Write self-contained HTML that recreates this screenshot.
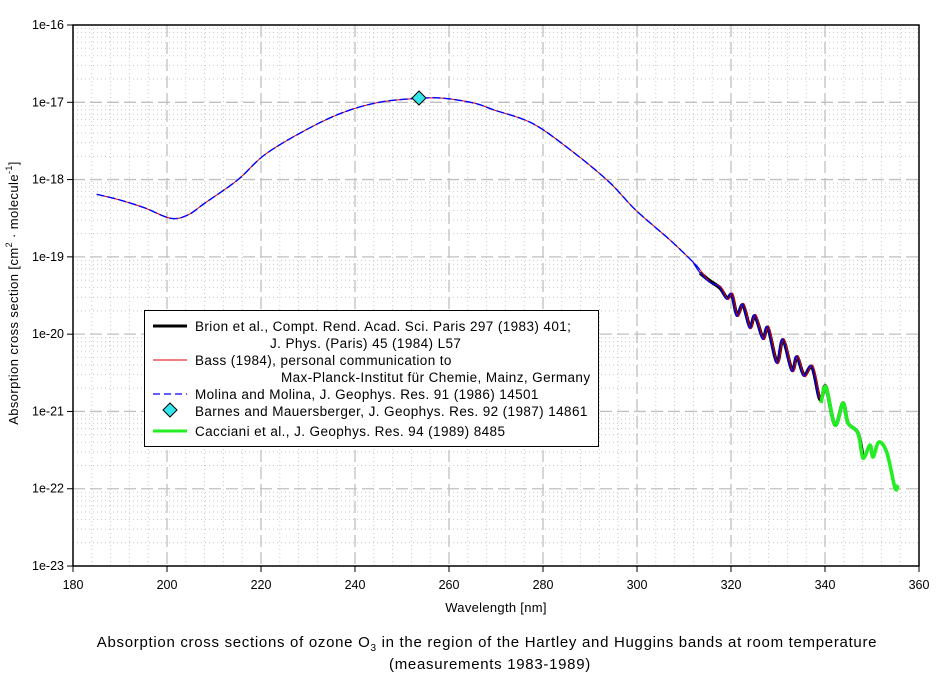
<!DOCTYPE html>
<html><head><meta charset="utf-8"><style>
body{margin:0;background:#fff}
svg{display:block;font-family:"Liberation Sans",Arial,sans-serif}
</style></head><body>
<svg id="s" width="944" height="678" viewBox="0 0 944 678" xmlns="http://www.w3.org/2000/svg">
<g id="grid"></g>
<g id="curves"></g>
<rect x="73" y="25" width="846" height="541" fill="none" stroke="#000" stroke-width="1.5"/>
<g id="ticks" font-size="12.5" fill="#000"></g>
<text x="496" y="612" font-size="13" letter-spacing="0.3" text-anchor="middle">Wavelength [nm]</text>
<text transform="translate(18,293) rotate(-90)" font-size="13" letter-spacing="0.4" text-anchor="middle">Absorption cross section [cm<tspan font-size="9" dy="-6">2</tspan><tspan dy="6"> · molecule</tspan><tspan font-size="9" dy="-6">-1</tspan><tspan dy="6">]</tspan></text>
<text x="487" y="647" font-size="15" letter-spacing="0.7" text-anchor="middle">Absorption cross sections of ozone O<tspan font-size="10" dy="4">3</tspan><tspan dy="-4"> in the region of the Hartley and Huggins bands at room temperature</tspan></text>
<text x="490" y="669" font-size="15" letter-spacing="0.7" text-anchor="middle">(measurements 1983-1989)</text>
<g id="legend">
<rect x="144.5" y="310.5" width="454" height="136" fill="#fff" stroke="#000"/>
<line x1="153" y1="326" x2="187" y2="326" stroke="#000" stroke-width="3"/>
<line x1="153" y1="360" x2="187" y2="360" stroke="#e00000" stroke-width="1"/>
<line x1="153" y1="394" x2="187" y2="394" stroke="#0000ff" stroke-width="1.3" stroke-dasharray="7,4"/>
<polygon points="170,403 177,410 170,417 163,410" fill="#33e6ee" stroke="#000"/>
<line x1="153" y1="431" x2="187" y2="431" stroke="#22ee22" stroke-width="3"/>
<g font-size="13.5" letter-spacing="0.4">
<text x="195" y="331">Brion et al., Compt. Rend. Acad. Sci. Paris 297 (1983) 401;</text>
<text x="270" y="348">J. Phys. (Paris) 45 (1984) L57</text>
<text x="195" y="365">Bass (1984), personal communication to</text>
<text x="281" y="382">Max-Planck-Institut für Chemie, Mainz, Germany</text>
<text x="195" y="399">Molina and Molina, J. Geophys. Res. 91 (1986) 14501</text>
<text x="195" y="416">Barnes and Mauersberger, J. Geophys. Res. 92 (1987) 14861</text>
<text x="195" y="436">Cacciani et al., J. Geophys. Res. 94 (1989) 8485</text>
</g>
</g>
</svg>
<script>
var NS="http://www.w3.org/2000/svg";
function el(p,n,a){var e=document.createElementNS(NS,n);for(var k in a)e.setAttribute(k,a[k]);p.appendChild(e);return e;}
var g=document.getElementById('grid'),t=document.getElementById('ticks'),c=document.getElementById('curves');
var X0=73,X1=919,Y0=25,D=77.29;
for(var w=184;w<360;w+=4){var x=X0+(w-180)*4.7;if(w%20==0)continue;el(g,'line',{x1:x,y1:Y0,x2:x,y2:566,stroke:'#c8c8c8','stroke-dasharray':'1,3'});}
for(var d=0;d<7;d++){for(var m=2;m<10;m++){var y=Y0+d*D+D*(1-Math.log10(m));el(g,'line',{x1:X0,y1:y,x2:X1,y2:y,stroke:'#c8c8c8','stroke-dasharray':'1,3'});}}
for(var w=200;w<360;w+=20){var x=X0+(w-180)*4.7;el(g,'line',{x1:x,y1:Y0,x2:x,y2:566,stroke:'#c0c0c0','stroke-width':1.3,'stroke-dasharray':'12,5'});}
for(var d=1;d<7;d++){var y=Y0+d*D;el(g,'line',{x1:X0,y1:y,x2:X1,y2:y,stroke:'#c0c0c0','stroke-width':1.3,'stroke-dasharray':'12,5'});}
for(var w=180;w<=360;w+=20){var x=X0+(w-180)*4.7;el(t,'line',{x1:x,y1:566,x2:x,y2:572,stroke:'#000'});var s=el(t,'text',{x:x,y:589,'text-anchor':'middle'});s.textContent=w;}
for(var d=0;d<=7;d++){var y=Y0+d*D;el(t,'line',{x1:67,y1:y,x2:73,y2:y,stroke:'#000'});var s=el(t,'text',{x:64,y:y+4,'text-anchor':'end'});s.textContent='1e-'+(16+d);}
var main=[[96.7,194.3],[120,200],[145,208],[170.6,218.3],[187.8,215],[205,203],[237.6,180],[264.4,155],[302.6,131.7],[340.9,113.3],[379.2,102.3],[419.4,98.3],[444.2,98.3],[474.8,103.3],[494,110],[532.2,123.3],[570.5,150],[608.8,181.7],[635.6,210],[670,240],[693,262],[700,270]];
var hug=[[700,273],[710,281],[720,288],[727,298],[732,295],[737,315],[743,305],[750,327],[755,316],[763,338],[768,328],[777,362],[783,340],[792,370],[797,357],[804,375],[812,367],[819,397]];
var grn=[[821,403],[826,387],[835,425],[843,403],[848,423],[858,433],[863,458],[870,445],[873,457],[879,442],[887,453],[895,488],[898,485]];
function cr(a){var d='M'+a[0][0]+','+a[0][1];for(var i=0;i<a.length-1;i++){var p0=a[Math.max(0,i-1)],p1=a[i],p2=a[i+1],p3=a[Math.min(a.length-1,i+2)];
d+=' C'+(p1[0]+(p2[0]-p0[0])/6)+','+(p1[1]+(p2[1]-p0[1])/6)+' '+(p2[0]-(p3[0]-p1[0])/6)+','+(p2[1]-(p3[1]-p1[1])/6)+' '+p2[0]+','+p2[1];}return d;}
el(c,'path',{d:cr(hug.concat([[822,397]]).concat(grn.slice(1,7))),fill:'none',stroke:'#000','stroke-width':3.6,'stroke-linejoin':'round'});
var red=main.concat(hug.slice(1).map(function(p,i){return [p[0]+0.8,p[1]+(i%2?-1.5:1.5)]}));
el(c,'path',{d:cr(red),fill:'none',stroke:'#e00000','stroke-width':1});
var blue=hug.slice(0).map(function(p,i){return [p[0]-0.6,p[1]+(i%2?1:-1)]});
el(c,'path',{d:cr(main),fill:'none',stroke:'#0000ff','stroke-width':1.4,'stroke-dasharray':'8,3'});
el(c,'path',{d:cr([[693,262]].concat(blue)),fill:'none',stroke:'#0000ff','stroke-width':1.2});
el(c,'path',{d:cr(grn),fill:'none',stroke:'#22ee22','stroke-width':3.6,'stroke-linejoin':'round'});
el(c,'polygon',{points:'419,91 426,98 419,105 412,98',fill:'#33e6ee',stroke:'#000'});
</script>
</body></html>
